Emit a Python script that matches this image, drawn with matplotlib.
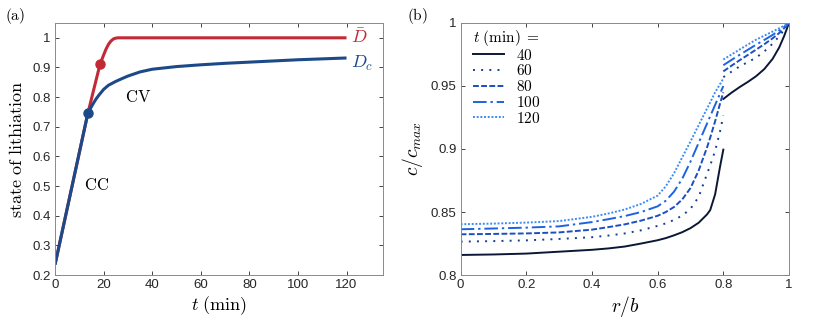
import numpy as np
import matplotlib
matplotlib.use('Agg')
from matplotlib import pyplot as plt
from matplotlib.ticker import FuncFormatter

plt.rcParams['font.family'] = ['Liberation Sans', 'DejaVu Sans']
plt.rcParams['mathtext.fontset'] = 'cm'

# (a) state of lithiation vs time
t_dc = [0, 13.5, 15, 16, 17, 18, 20, 22, 25, 28, 30, 35, 40, 50, 60, 70, 80, 90, 100, 110, 120]
dc = [0.235, 0.745, 0.768, 0.782, 0.795, 0.806, 0.826, 0.840, 0.853, 0.864, 0.871, 0.885, 0.894, 0.903,
      0.909, 0.914, 0.918, 0.922, 0.926, 0.929, 0.932]
t_dbar = [0, 13.5, 18.5, 20, 21, 22, 23, 24, 25, 26, 120]
dbar = [0.235, 0.745, 0.91, 0.942, 0.962, 0.978, 0.989, 0.996, 0.999, 1.0, 1.0]
switch_dc = (13.5, 0.745)
switch_dbar = (18.5, 0.91)

# (b) concentration profiles, inner part (r/b <= 0.8) and outer part (r/b >= 0.8)
times = [40, 60, 80, 100, 120]
r_in = [0, 0.1, 0.2, 0.3, 0.4, 0.45, 0.5, 0.55, 0.6, 0.625, 0.65, 0.675, 0.7, 0.725, 0.75, 0.76, 0.775, 0.79, 0.8]
c_in = {
    40:  [0.8159, 0.8163, 0.8170, 0.8185, 0.8200, 0.8211, 0.8226, 0.8250, 0.8276, 0.8293, 0.8315, 0.8340,
          0.8372, 0.8415, 0.8480, 0.8515, 0.8640, 0.8860, 0.8995],
    60:  [0.8265, 0.8269, 0.8275, 0.8286, 0.8300, 0.8313, 0.8330, 0.8355, 0.8390, 0.8410, 0.8437, 0.8472,
          0.8525, 0.8620, 0.8800, 0.8870, 0.8985, 0.9140, 0.9265],
    80:  [0.8323, 0.8326, 0.8330, 0.8338, 0.8360, 0.8380, 0.8402, 0.8432, 0.8470, 0.8500, 0.8540, 0.8600,
          0.8690, 0.8830, 0.9010, 0.9090, 0.9220, 0.9360, 0.9450],
    100: [0.8363, 0.8369, 0.8376, 0.8386, 0.8420, 0.8443, 0.8468, 0.8500, 0.8545, 0.8590, 0.8662, 0.8765,
          0.8900, 0.9050, 0.9200, 0.9260, 0.9350, 0.9440, 0.9500],
    120: [0.8403, 0.8408, 0.8416, 0.8428, 0.8462, 0.8488, 0.8520, 0.8565, 0.8630, 0.8705, 0.8808, 0.8935,
          0.9060, 0.9190, 0.9320, 0.9370, 0.9450, 0.9515, 0.9560],
}
r_out = [0.8, 0.825, 0.85, 0.875, 0.9, 0.925, 0.95, 0.97, 0.985, 1.0]
c_out = {
    40:  [0.9397, 0.9447, 0.9492, 0.9533, 0.9578, 0.9635, 0.9715, 0.9805, 0.9895, 1.0],
    60:  [0.9570, 0.9614, 0.9656, 0.9690, 0.9725, 0.9775, 0.9835, 0.9895, 0.9945, 1.0],
    80:  [0.9616, 0.9661, 0.9705, 0.9747, 0.9789, 0.9832, 0.9878, 0.9920, 0.9958, 1.0],
    100: [0.9665, 0.9707, 0.9748, 0.9788, 0.9828, 0.9866, 0.9905, 0.9940, 0.9968, 1.0],
    120: [0.9710, 0.9750, 0.9790, 0.9829, 0.9868, 0.9900, 0.9932, 0.9958, 0.9978, 1.0],
}
colors = {40: '#0b1734', 60: '#163d91', 80: '#1a4fc0', 100: '#1d63df', 120: '#3d8cf3'}
dashes = {40: (None, None), 60: (1, 3.2), 80: (3, 1.2), 100: (7, 2, 1.2, 2), 120: (1, 0.9)}


def style_axes(ax):
    ax.tick_params(direction='in', top=True, right=True, length=3, width=0.6,
                   labelsize=9.5, colors='#262626', pad=3)
    for s in ax.spines.values():
        s.set_color('#8a8a8a')
        s.set_linewidth(0.7)
    ax.xaxis.set_major_formatter(FuncFormatter(lambda v, p: '%g' % round(v, 4)))
    ax.yaxis.set_major_formatter(FuncFormatter(lambda v, p: '%g' % round(v, 4)))


fig = plt.figure(figsize=(8.3, 3.18), dpi=100)
ax1 = fig.add_axes([0.0663, 0.1352, 0.3951, 0.7925])
ax2 = fig.add_axes([0.5550, 0.1352, 0.3956, 0.7925])

red = '#c22a35'
blue = '#1c4a88'
ax1.plot(t_dbar, dbar, color=red, lw=2.2, solid_capstyle='butt')
ax1.plot(t_dc, dc, color=blue, lw=2.2, solid_capstyle='butt')
ax1.plot(*switch_dbar, 'o', color=red, ms=6.5)
ax1.plot(*switch_dc, 'o', color=blue, ms=6.5)
ax1.set_xlim(0, 135)
ax1.set_ylim(0.2, 1.05)
ax1.set_xticks(np.arange(0, 121, 20))
ax1.set_yticks(np.arange(0.2, 1.01, 0.1))
style_axes(ax1)
ax1.set_xlabel(r'$t\ \mathrm{(min)}$', fontsize=13, labelpad=2)
ax1.set_ylabel(r'$\mathrm{state\ of\ lithiation}$', fontsize=13, labelpad=5)
ax1.text(17, 0.505, r'$\mathrm{CC}$', fontsize=12, ha='center', va='center')
ax1.text(34, 0.80, r'$\mathrm{CV}$', fontsize=12, ha='center', va='center')
ax1.text(122, 1.0, r'$\bar{D}$', fontsize=13, color=red, ha='left', va='center')
ax1.text(122, 0.915, r'$D_c$', fontsize=13, color=blue, ha='left', va='center')

for tm in times:
    kw = dict(color=colors[tm], lw=1.4)
    l1, = ax2.plot(r_in, c_in[tm], label=r'$%d$' % tm, **kw)
    l2, = ax2.plot(r_out, c_out[tm], **kw)
    if dashes[tm][0] is not None:
        l1.set_dashes(dashes[tm])
        l2.set_dashes(dashes[tm])
ax2.set_xlim(0, 1)
ax2.set_ylim(0.8, 1)
ax2.set_xticks(np.arange(0, 1.01, 0.2))
ax2.set_yticks([0.8, 0.85, 0.9, 0.95, 1.0])
style_axes(ax2)
ax2.set_xlabel(r'$r/b$', fontsize=14, labelpad=2)
ax2.set_ylabel(r'$c/c_{max}$', fontsize=14, labelpad=4)
leg = ax2.legend(title=r'$t\ \mathrm{(min)}\;=$', loc='upper left', frameon=False,
                 fontsize=11, title_fontsize=11, handlelength=2.0, handletextpad=0.8,
                 labelspacing=0.05, borderaxespad=0.2, bbox_to_anchor=(0.01, 1.018))
leg._legend_box.align = 'left'
leg._legend_box.sep = 0

fig.text(0.006, 0.95, r'$\mathrm{(a)}$', fontsize=11, va='center')
fig.text(0.490, 0.95, r'$\mathrm{(b)}$', fontsize=11, va='center')

fig.savefig('out.png', dpi=100)
